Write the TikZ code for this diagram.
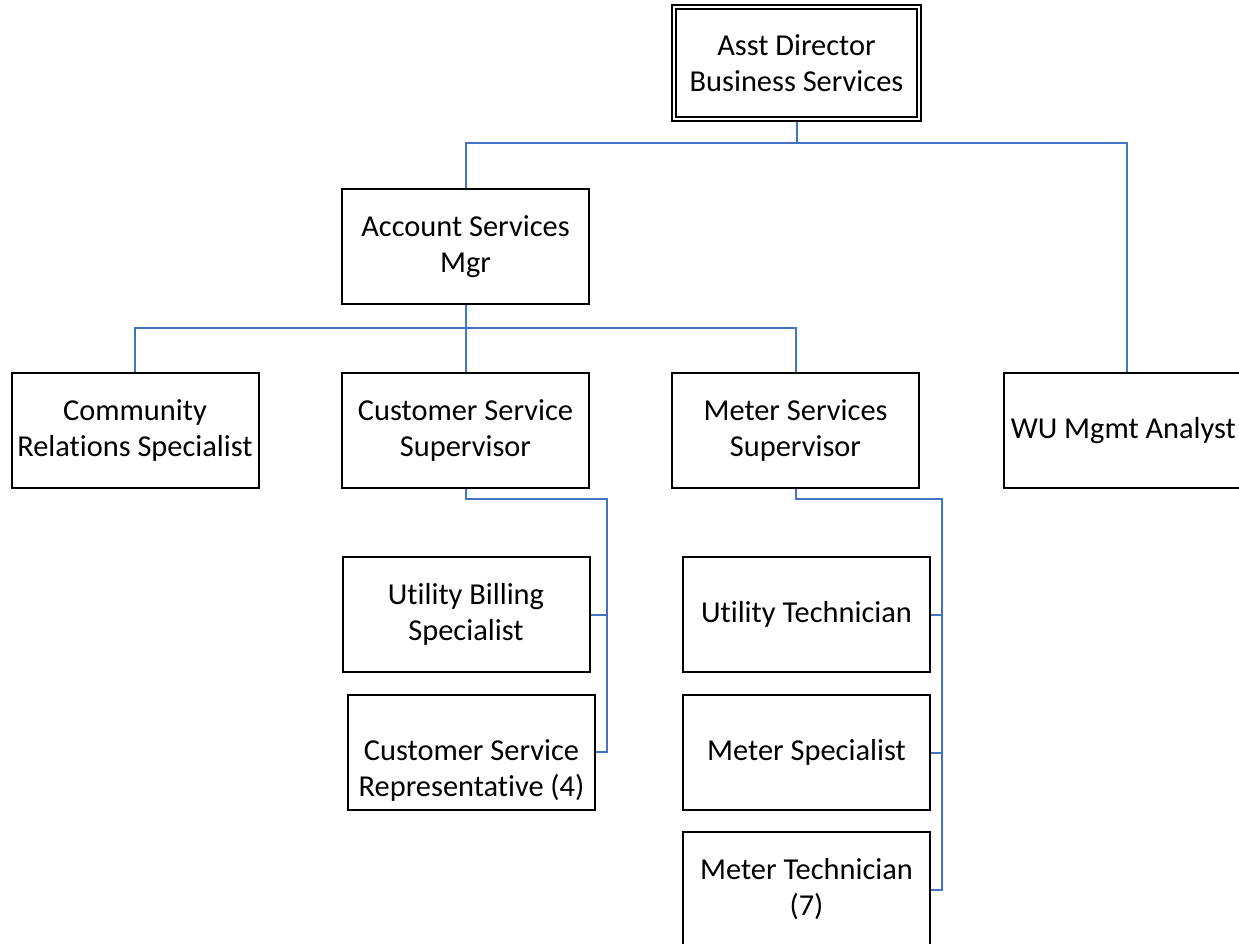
\documentclass[tikz,border=0pt]{standalone}
\usepackage{fontspec}
\setmainfont{Carlito}[RawFeature={-liga;-clig;-calt;-dlig}]
\usetikzlibrary{calc}
\definecolor{conncol}{RGB}{68,114,196}
\begin{document}
\begin{tikzpicture}[x=0.75pt,y=-0.75pt,
  box/.style={draw=black,line width=1.5pt,fill=white,minimum width=247*0.75pt,minimum height=115*0.75pt,
    align=center,inner sep=0pt,font=\fontsize{22.8}{27}\selectfont},
  txt/.style={align=center,inner sep=0pt,font=\fontsize{22.8}{27}\selectfont},
  conn/.style={draw=conncol,line width=1.5pt}]
\useasboundingbox (0,0) rectangle (1239,944);
% nodes
\node[box,minimum width=249*0.75pt,minimum height=116*0.75pt] (top) at (796.5,63) {Asst Director\\Business Services};
\draw[line width=1.4pt] ([shift={(5,5)}]top.north west) rectangle ([shift={(-5,-5)}]top.south east);
\node[box] (acct) at (465.5,246.5) {Account Services\\Mgr};
\node[box] (comm) at (135,430.5) {Community\\Relations Specialist};
\node[box] (css) at (465.5,430.5) {Customer Service\\Supervisor};
\node[box] (mss) at (795.5,430.5) {Meter Services\\Supervisor};
\node[box] (wu) at (1127,430.5) {};
\node[txt,anchor=west] (wut) at ($(wu.west)+(8,0)$) {WU Mgmt Analyst};
\node[box] (ubs) at (466,614.5) {Utility Billing\\Specialist};
\node[box] (csr) at (471.5,752) {};
\node[txt] (csrt) at ($(csr.center)+(0,18)$) {Customer Service\\Representative (4)};
\node[box] (ut) at (806.5,614.5) {Utility Technician};
\node[box] (ms) at (806.5,752.5) {Meter Specialist};
\node[box] (mt) at (806.5,889.5) {Meter Technician\\(7)};
% junctions
\coordinate (j1) at (796.5,143);
\coordinate (j2) at (465.5,328);
\coordinate (j3) at (607,499);
\coordinate (j4) at (942,499);
% connectors
\draw[conn] (top.south) -- (j1) -| (acct.north);
\draw[conn] (j1) -| (wu.north);
\draw[conn] (acct.south) -- (j2) -| (comm.north);
\draw[conn] (j2) -| (mss.north);
\draw[conn] (j2) -- (css.north);
\draw[conn] (css.south) |- (j3) |- (csr.east);
\draw[conn] (j3 |- ubs.east) -- (ubs.east);
\draw[conn] (mss.south) |- (j4) |- (mt.east);
\draw[conn] (j4 |- ut.east) -- (ut.east);
\draw[conn] (j4 |- ms.east) -- (ms.east);
\end{tikzpicture}
\end{document}
